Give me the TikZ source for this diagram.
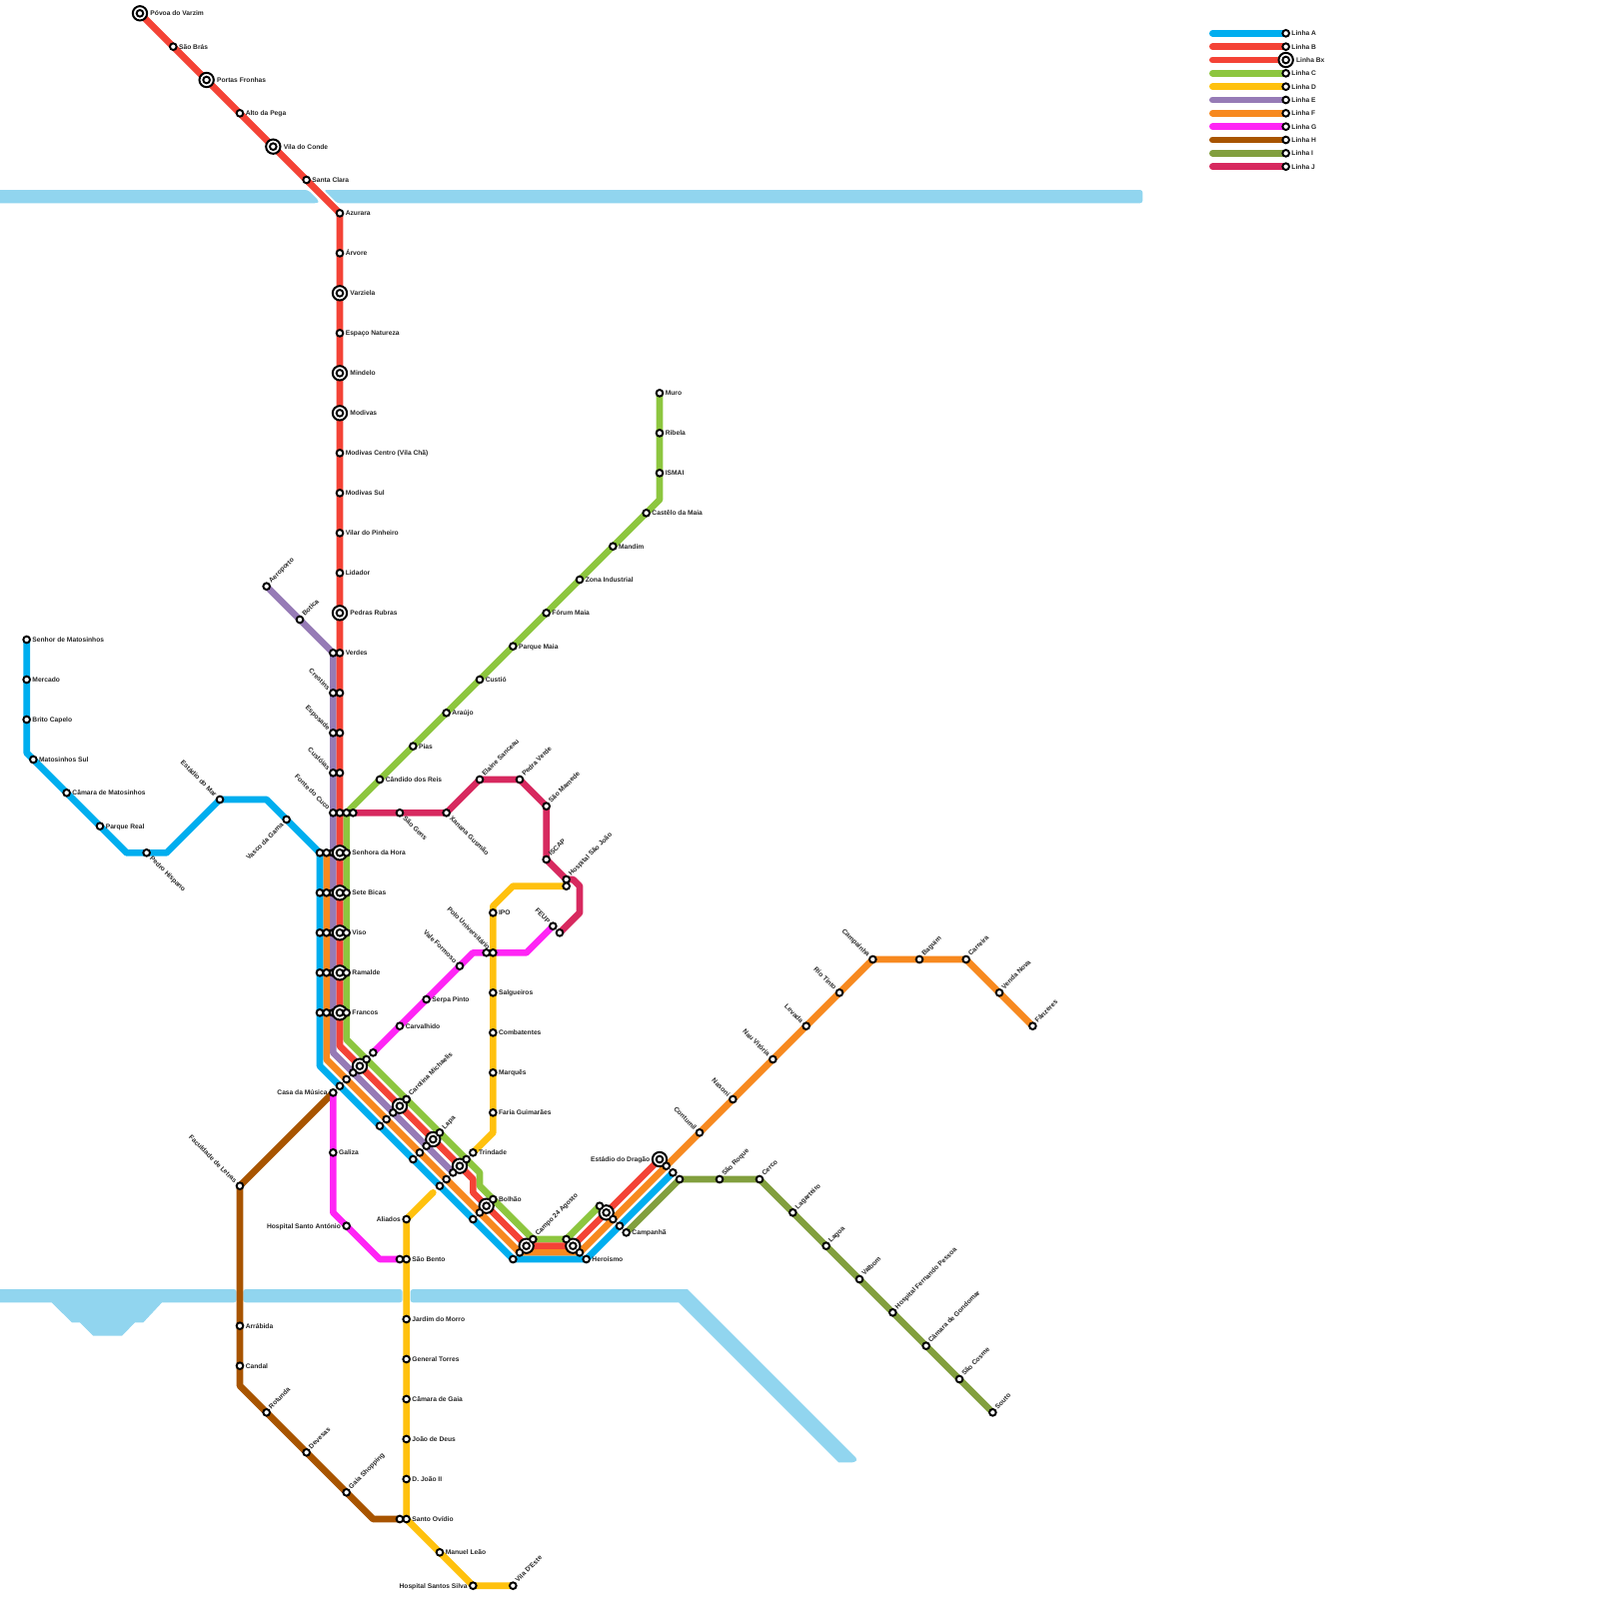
\documentclass[tikz,border=0pt]{standalone}
\usepackage{fontspec}
\setmainfont{Liberation Sans}
\usetikzlibrary{backgrounds}
\definecolor{lineA}{HTML}{00AEEF}
\definecolor{lineB}{HTML}{F44336}
\definecolor{lineC}{HTML}{8DC63F}
\definecolor{lineD}{HTML}{FFC10E}
\definecolor{lineE}{HTML}{967BB6}
\definecolor{lineF}{HTML}{F7891F}
\definecolor{lineG}{HTML}{FF25F5}
\definecolor{lineH}{HTML}{A85400}
\definecolor{lineI}{HTML}{829F3E}
\definecolor{lineJ}{HTML}{D7295F}
\definecolor{rio}{HTML}{91D5EF}
\begin{document}
\begin{tikzpicture}[x=1mm,y=-1mm,
  track/.style={line width=1mm,line cap=round,line join=round},
  stn/.style={circle,draw=black,fill=white,line width=.29mm,minimum size=1mm,inner sep=0},
  bigring/.style={circle,draw=black,fill=white,line width=.3mm,minimum size=2.15mm,inner sep=0},
  lbl/.style={font=\fontsize{2.85}{3}\selectfont\bfseries,inner sep=0,text=black!85,text height=.73mm,text depth=0pt},
  toright/.style={lbl,anchor=west,xshift=.8mm},
  toleft/.style={lbl,anchor=east,xshift=-.8mm},
  bigright/.style={lbl,anchor=west,xshift=1.5mm},
  bigleft/.style={lbl,anchor=east,xshift=-1.4mm},
  upright/.style={lbl,anchor=west,xshift=.45mm,yshift=.68mm,rotate=45},
  downright/.style={lbl,anchor=west,xshift=.65mm,yshift=-.6mm,rotate=-45},
  upleft/.style={lbl,anchor=east,xshift=-.55mm,yshift=.58mm,rotate=-45},
  downleft/.style={lbl,anchor=east,xshift=-.6mm,yshift=-.6mm,rotate=45}]
 \useasboundingbox (0,0) rectangle (240,240);
 % corners of the lines
 \foreach \id/\x/\y in {cA1/4/113,cA2/19/128,cA3/25/128,cA4/40/120,cA5/48/160,
   cF1/49/159,cE1/50/158,cB1/51/157,cB2/71/177,cB3/71/179,
   cC1/99/75,cC2/52/156,cC3/72/176,cC4/72/178,
   cD1/77/133,cD2/74/136,cD3/74/170,cD4/65/179,
   cG1/50/182,cG2/57/189,cG3/71/143,cG4/79/143,
   cH1/36/208,cH2/56/228,cJ1/86/132,cJ2/87/133,cJ3/87/137}
   \coordinate (\id) at (\x,\y);
 % hidden under the big rings
 \foreach \i/\y in {1/128,2/134,3/140,4/146,5/152}
   \node[stn] (te\i) at (50,\y) {};
 % big stations
 \foreach \i/\y in {1/128,2/134,3/140,4/146,5/152}{
   \node[bigring] (tb\i) at (51,\y) {};
   \node[stn] (tb\i i) at (tb\i.center) {};
 }
 \foreach \id/\x/\y in {g1b/54/160,g2b/60/166,g3b/65/171,g4b/69/175,g5b/73/181,
   g6b/79/187,g7b/86/187,g8b/91/182}{
   \node[bigring] (\id) at (\x,\y) {};
   \node[stn] (\id i) at (\id.center) {};
 }
 \foreach \id/\x/\y/\side/\txt in {povoa/21/2/bigright/Póvoa do Varzim,
   fronhas/31/12/bigright/Portas Fronhas,conde/41/22/bigright/Vila do Conde,
   varziela/51/44/bigright/Varziela,mindelo/51/56/bigright/Mindelo,
   modivas/51/62/bigright/Modivas,rubras/51/92/bigright/Pedras Rubras,
   dragao/99/174/bigleft/Estádio do Dragão,keyBx/193/9/bigright/Linha Bx}{
   \node[bigring] (\id) at (\x,\y) {};
   \node[stn] (\id i) at (\id.center) {};
   \node[\side] (\id t) at (\id.center) {\txt};
 }
 % stations with a label
 \foreach \id/\x/\y/\side/\txt in {
   saobras/26/7/toright/São Brás,pega/36/17/toright/Alto da Pega,
   clara/46/27/toright/Santa Clara,azurara/51/32/toright/Azurara,
   arvore/51/38/toright/Árvore,espaco/51/50/toright/Espaço Natureza,
   mcentro/51/68/toright/Modivas Centro (Vila Chã),msul/51/74/toright/Modivas Sul,
   vilar/51/80/toright/Vilar do Pinheiro,lidador/51/86/toright/Lidador,
   verdes/51/98/toright/Verdes,
   aeroporto/40/88/upright/Aeroporto,botica/45/93/upright/Botica,
   crestins/50/104/upleft/Crestins,esposade/50/110/upleft/Esposade,
   custoias/50/116/upleft/Custóias,cuco/50/122/upleft/Fonte do Cuco,
   hora/52/128/toright/Senhora da Hora,bicas/52/134/toright/Sete Bicas,
   viso/52/140/toright/Viso,ramalde/52/146/toright/Ramalde,francos/52/152/toright/Francos,
   matos/4/96/toright/Senhor de Matosinhos,mercado/4/102/toright/Mercado,
   brito/4/108/toright/Brito Capelo,msulA/5/114/toright/Matosinhos Sul,
   camara/10/119/toright/Câmara de Matosinhos,real/15/124/toright/Parque Real,
   hispano/22/128/downright/Pedro Hispano,mar/33/120/upleft/Estádio do Mar,
   gama/43/123/downleft/Vasco da Gama,
   muro/99/59/toright/Muro,ribela/99/65/toright/Ribela,ismai/99/71/toright/ISMAI,
   castelo/97/77/toright/Castêlo da Maia,mandim/92/82/toright/Mandim,
   zona/87/87/toright/Zona Industrial,forum/82/92/toright/Fórum Maia,
   pmaia/77/97/toright/Parque Maia,custio/72/102/toright/Custió,
   araujo/67/107/toright/Araújo,pias/62/112/toright/Pias,
   candido/57/117/toright/Cândido dos Reis,
   gens/60/122/downright/São Gens,xanana/67/122/downright/Xanana Gusmão,
   elaine/72/117/upright/Elaine Sanceau,pedra/78/117/upright/Pedra Verde,
   mamede/82/121/upright/São Mamede,iscap/82/129/upright/ISCAP,
   hsj/85/132/upright/Hospital São João,
   carvalhido/60/154/toright/Carvalhido,serpa/64/150/toright/Serpa Pinto,
   vale/69/145/upleft/Vale Formoso,polod/74/143/upleft/Polo Universitário,
   feup/83/139/upleft/FEUP,casa/50/164/toleft/Casa da Música,
   galiza/50/173/toright/Galiza,hsa/52/184/toleft/Hospital Santo António,
   ipo/74/137/toright/IPO,salgueiros/74/149/toright/Salgueiros,
   combatentes/74/155/toright/Combatentes,marques/74/161/toright/Marquês,
   faria/74/167/toright/Faria Guimarães,trindade/71/173/toright/Trindade,
   aliados/61/183/toleft/Aliados,bento/61/189/toright/São Bento,
   jardim/61/198/toright/Jardim do Morro,torres/61/204/toright/General Torres,
   cgaia/61/210/toright/Câmara de Gaia,deus/61/216/toright/João de Deus,
   joao/61/222/toright/D. João II,ovidio/61/228/toright/Santo Ovídio,
   manuel/66/233/toright/Manuel Leão,santos/71/238/toleft/Hospital Santos Silva,
   este/77/238/upright/Vila D'Este,
   carolina/61/165/upright/Carolina Michaelis,lapa/66/170/upright/Lapa,
   bolhao/74/180/toright/Bolhão,campo/80/186/upright/Campo 24 Agosto,
   heroismo/88/189/toright/Heroísmo,campanha/94/185/toright/Campanhã,
   contumil/105/170/upleft/Contumil,nasoni/110/165/upleft/Nasoni,
   vitoria/116/159/upleft/Nau Vitória,levada/121/154/upleft/Levada,
   tinto/126/149/upleft/Rio Tinto,campainha/131/144/upleft/Campainha,
   baguim/138/144/upright/Baguim,carreira/145/144/upright/Carreira,
   venda/150/149/upright/Venda Nova,fanzeres/155/154/upright/Fânzeres,
   letras/36/178/upleft/Faculdade de Letras,arrabida/36/199/toright/Arrábida,
   candal/36/205/toright/Candal,rotunda/40/212/upright/Rotunda,
   devesas/46/218/upright/Devesas,shopping/52/224/upright/Gaia Shopping,
   roque/108/177/upright/São Roque,cerco/114/177/upright/Cerco,
   lagarteiro/119/182/upright/Lagarteiro,lagoa/124/187/upright/Lagoa,
   valbom/129/192/upright/Valbom,pessoa/134/197/upright/Hospital Fernando Pessoa,
   gondomar/139/202/upright/Câmara de Gondomar,cosme/144/207/upright/São Cosme,
   souto/149/212/upright/Souto,
   keyA/193/5/toright/Linha A,keyB/193/7/toright/Linha B,keyC/193/11/toright/Linha C,
   keyD/193/13/toright/Linha D,keyE/193/15/toright/Linha E,keyF/193/17/toright/Linha F,
   keyG/193/19/toright/Linha G,keyH/193/21/toright/Linha H,keyI/193/23/toright/Linha I,
   keyJ/193/25/toright/Linha J}{
   \node[stn] (\id) at (\x,\y) {};
   \node[\side] (\id t) at (\id.center) {\txt};
 }
 % stations with no label
 \foreach \i/\y in {1/128,2/134,3/140,4/146,5/152}{
   \node[stn] (ta\i) at (48,\y) {};
   \node[stn] (tf\i) at (49,\y) {};
 }
 \foreach \id/\x/\y in {e98/50/98,b104/51/104,b110/51/110,b116/51/116,b122/51/122,
   c122/52/122,j122/53/122,
   g1a/51/163,g1f/52/162,g1e/53/161,g1c/55/159,g1g/56/158,
   g2a/57/169,g2f/58/168,g2e/59/167,g2c/61/165,
   g3a/62/174,g3f/63/173,g3e/64/172,
   g4a/66/178,g4f/67/177,g4e/68/176,g4c/70/174,
   g5a/71/183,g5f/72/182,g6a/77/189,g6f/78/188,
   g7c/85/186,g7f/87/188,g8c/90/181,g8f/92/183,g8a/93/184,
   g9f/100/175,g9a/101/176,g9i/102/177,
   j84/84/140,d85/85/133,polo/73/143,g60/60/189,h60/60/228}
   \node[stn] (\id) at (\x,\y) {};
 \begin{pgfonlayer}{background}
  % river
  \fill[rio] (-1,193.5)[rounded corners=.4mm]--(35.5,193.5)--(35.5,195.5)[sharp corners]--(24.3,195.5)--(21.5,198.5)--(20.25,198.5)
    --(18.3,200.5)--(14,200.5)--(12,198.5)--(10.8,198.5)--(7.75,195.5)--(-1,195.5)--cycle;
  \fill[rio,rounded corners=.4mm] (36.5,193.5) rectangle (60.4,195.5);
  \fill[rio] (62.5,193.5)--(103.2,193.5)[rounded corners=.4mm]--(128.7,219)--(128.3,219.5)[sharp corners]--(125.9,219.5)
    --(101.9,195.5)[rounded corners=.4mm]--(61.6,195.5)--(61.6,193.5)--(62.5,193.5);
  \fill[rio,rounded corners=.4mm] (-1,28.5)--(46.2,28.5)--(47.9,30.2)--(47.6,30.5)--(-1,30.5)--cycle;
  \fill[rio,rounded corners=.4mm] (48.6,28.5)--(171.5,28.5)--(171.5,30.5)--(50.6,30.5)--cycle;
  % lines
  \draw[track,lineJ] (j122.center) foreach \n in {gens,xanana,elaine,pedra,mamede,iscap,hsj,cJ1,cJ2,cJ3,j84} {--(\n.center)};
  \draw[track,lineI] (campanha.center) foreach \n in {g9i,roque,cerco,lagarteiro,lagoa,valbom,pessoa,gondomar,cosme,souto} {--(\n.center)};
  \draw[track,lineH] (casa.center) foreach \n in {letras,arrabida,candal,cH1,rotunda,devesas,shopping,cH2,h60} {--(\n.center)};
  \draw[track,lineG] (casa.center) foreach \n in {galiza,cG1,hsa,cG2,g60} {--(\n.center)};
  \draw[track,lineG] (g1g.center) foreach \n in {carvalhido,serpa,vale,cG3,polo,polod,cG4,feup} {--(\n.center)};
  \draw[track,lineD] (d85.center) foreach \n in {cD1,cD2,ipo,polod,salgueiros,combatentes,marques,faria,cD3,trindade} {--(\n.center)};
  \draw[track,lineD] (cD4.center) foreach \n in {aliados,bento,jardim,torres,cgaia,deus,joao,ovidio,manuel,santos,este} {--(\n.center)};
  \draw[track,lineC] (muro.center) foreach \n in {ribela,ismai,cC1,castelo,mandim,zona,forum,pmaia,custio,araujo,pias,candido,c122,hora,bicas,viso,ramalde,francos,cC2,g1c,g2c,lapa,g4c,cC3,cC4,bolhao,campo,g7c,g8c} {--(\n.center)};
  \draw[track,lineE] (aeroporto.center) foreach \n in {botica,e98,crestins,esposade,custoias,cuco,te1,te2,te3,te4,te5,cE1,g1e,g2e,g3e,g4e} {--(\n.center)};
  \draw[track,lineB] (povoa.center) foreach \n in {saobras,fronhas,pega,conde,clara,azurara,arvore,varziela,espaco,mindelo,modivas,mcentro,msul,vilar,lidador,rubras,verdes,b104,b110,b116,b122,tb1,tb2,tb3,tb4,tb5,cB1,g1b,g2b,g3b,g4b,cB2,cB3,g5b,g6b,g7b,g8b,dragao} {--(\n.center)};
  \draw[track,lineF] (tf1.center) foreach \n in {tf2,tf3,tf4,tf5,cF1,g1f,g2f,g3f,g4f,g5f,g6f,g7f,g8f,g9f,contumil,nasoni,vitoria,levada,tinto,campainha,baguim,carreira,venda,fanzeres} {--(\n.center)};
  \draw[track,lineA] (matos.center) foreach \n in {mercado,brito,cA1,msulA,camara,real,cA2,hispano,cA3,mar,cA4,gama,ta1,ta2,ta3,ta4,ta5,cA5,g1a,g2a,g3a,g4a,g5a,g6a,heroismo,g8a,g9a} {--(\n.center)};
  % key
  \foreach \k/\y/\col in {keyA/5/lineA,keyB/7/lineB,keyBx/9/lineB,keyC/11/lineC,keyD/13/lineD,keyE/15/lineE,
    keyF/17/lineF,keyG/19/lineG,keyH/21/lineH,keyI/23/lineI,keyJ/25/lineJ}{
    \coordinate (\k s) at (182,\y);
    \draw[track,\col] (\k s)--(\k.center);
  }
 \end{pgfonlayer}
\end{tikzpicture}
\end{document}
